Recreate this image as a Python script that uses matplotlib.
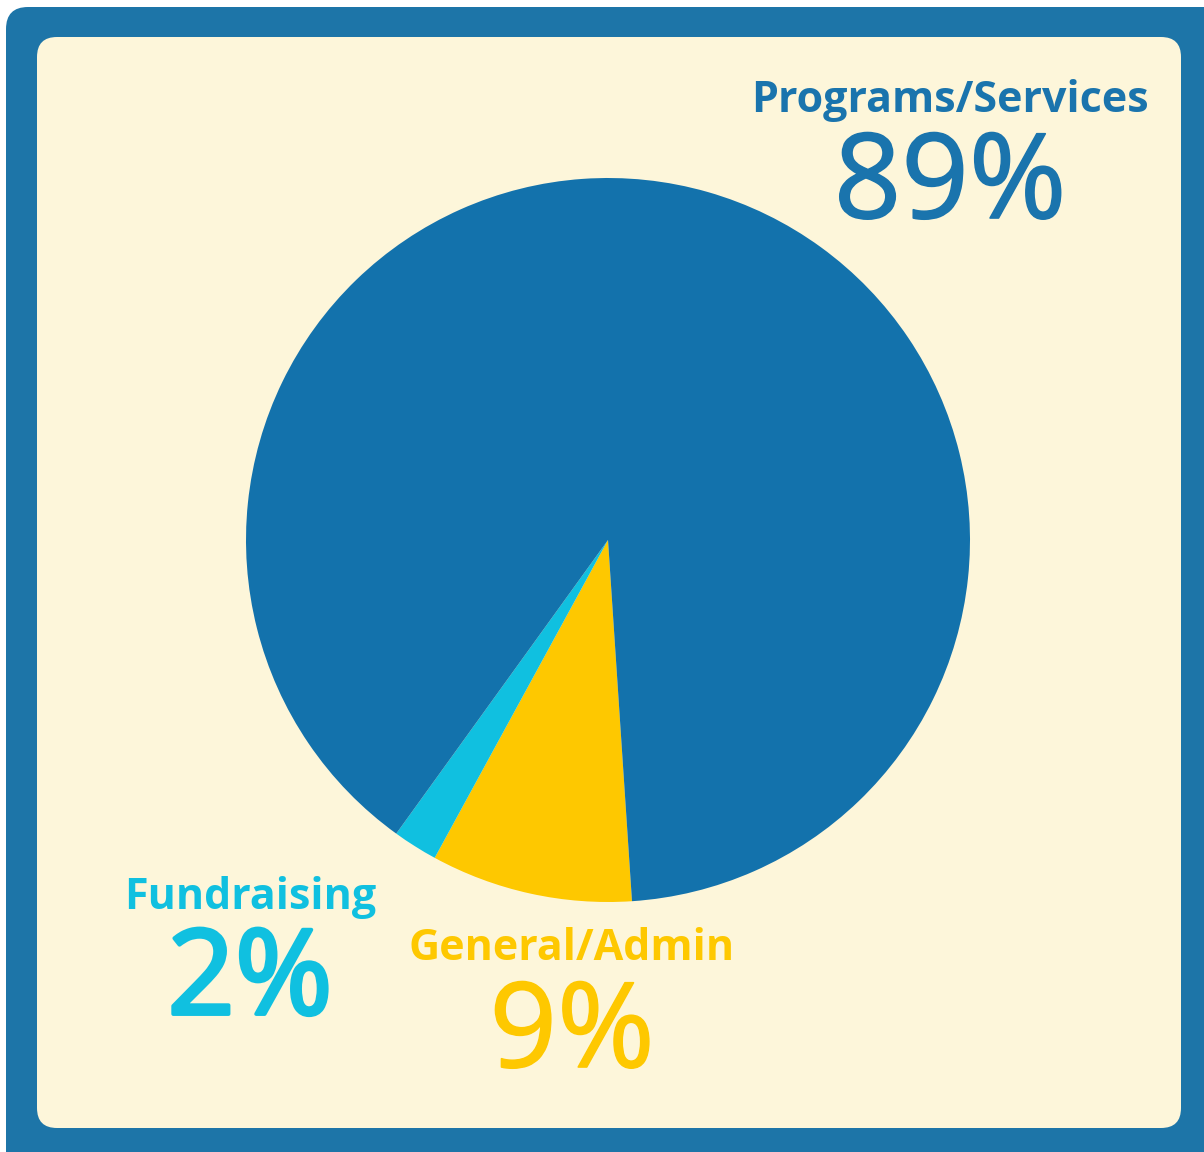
import matplotlib
matplotlib.use("Agg")
import matplotlib.pyplot as plt
import matplotlib.patheffects as pe
from matplotlib.patches import FancyBboxPatch

categories = ["General/Admin", "Fundraising", "Programs/Services"]
values = [9, 2, 89]
pct_labels = ["9%", "2%", "89%"]
colors = ["#fec800", "#10c0e0", "#1372ac"]
text_colors = ["#fec800", "#10c0e0", "#1a74ad"]

W, H = 1204, 1152
fig = plt.figure(figsize=(W / 100, H / 100), dpi=100)
fig.patch.set_facecolor("white")
ax = fig.add_axes([0, 0, 1, 1])
ax.set_xlim(0, W)
ax.set_ylim(0, H)
ax.set_aspect("equal")
ax.axis("off")

def py(y):
    return H - y

# outer frame
outer = FancyBboxPatch((6, -40), W + 40 - 6, py(7) + 40,
                       boxstyle="round,pad=0,rounding_size=22",
                       facecolor="#1d75a8", edgecolor="none", zorder=0)
ax.add_patch(outer)
# inner cream panel
inner = FancyBboxPatch((37, py(1128)), 1181 - 37, 1128 - 37,
                       boxstyle="round,pad=0,rounding_size=20",
                       facecolor="#fdf6da", edgecolor="none", zorder=1)
ax.add_patch(inner)

wedges, _ = ax.pie(values, colors=colors, startangle=-86.2, counterclock=False,
                   center=(608, py(540)), radius=362, frame=True,
                   wedgeprops=dict(linewidth=0, zorder=2))
for w in wedges:
    w.set_zorder(2)
ax.set_xlim(0, W)
ax.set_ylim(0, H)
ax.axis("off")

fam = ["Open Sans", "DejaVu Sans"]
# label positions (pixel coords): (x, label baseline, pct baseline)
pos = {
    "Programs/Services": (950, 112, 218),
    "Fundraising": (250, 909, 1014),
    "General/Admin": (572, 960, 1067),
}
pct_stroke = {"Programs/Services": 1.2, "Fundraising": 2.8, "General/Admin": 1.2}
for cat, pct, tc in zip(categories, pct_labels, text_colors):
    x, yl, yp = pos[cat]
    ax.text(x, py(yl), cat, ha="center", va="baseline", fontsize=31,
            fontweight="bold", color=tc, family=fam, zorder=3)
    ax.text(x, py(yp), pct, ha="center", va="baseline", fontsize=85,
            fontweight="normal", color=tc, family=fam, zorder=3,
            path_effects=[pe.withStroke(linewidth=pct_stroke[cat], foreground=tc)])

fig.savefig("out.png", dpi=100, facecolor=fig.get_facecolor())
